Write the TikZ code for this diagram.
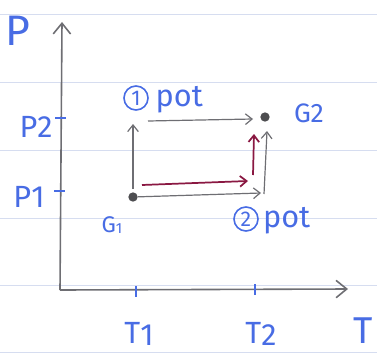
\documentclass[tikz,border=0pt]{standalone}
\usepackage{fontspec}
\setmainfont{Fira Sans}
\usepackage{xcolor}
\usetikzlibrary{arrows.meta,positioning}
\definecolor{ink}{RGB}{72,108,228}
\definecolor{pencil}{RGB}{110,110,115}
\definecolor{wine}{RGB}{138,24,66}
\definecolor{ruled}{RGB}{214,221,240}
\tikzset{
  axis/.style={pencil,line width=1.2pt,-{Straight Barb[length=8pt,width=13pt]}},
  way/.style={pencil,line width=0.9pt,-{Straight Barb[length=5pt,width=8pt]}},
  redway/.style={wine,line width=1.3pt,-{Straight Barb[length=5pt,width=8pt]}},
  tick/.style={ink,line width=1.1pt},
  lab/.style={text=ink,inner sep=0pt},
  num/.style={circle,draw=ink,line width=1.2pt,text=ink,inner sep=0pt,minimum size=18pt,font=\fontsize{16}{16}\selectfont},
}

\begin{document}
\begin{tikzpicture}[x=0.75pt,y=-0.75pt]
  \useasboundingbox (0,0) rectangle (377,360);
  \foreach \y in {14,82,150,218,285,352}
    \draw[ruled,line width=0.6pt] (0,\y)--(377,\y);
  \coordinate (O) at (60,290);
  \coordinate (ytop) at (62,22);
  \coordinate (xend) at (348,289);
  \draw[axis] (O)--(ytop);
  \draw[axis] (O)--(xend);
  \coordinate (p2) at (61,118);
  \coordinate (p1) at (60,191);
  \coordinate (t1) at (136,291);
  \coordinate (t2) at (255,290);
  \draw[tick] (p2) ++(-6,0)--++(11,0);
  \draw[tick] (p1) ++(-6,0)--++(11,0);
  \draw[tick] (t1) ++(0,-5)--++(0,11);
  \draw[tick] (t2) ++(0,-6)--++(0,11);
  \node[lab,font=\fontsize{32}{32}\selectfont] (P) at (18,31) {P};
  \node[lab,font=\fontsize{23}{23}\selectfont] (P2) at (36,127) {P\raisebox{-0.05ex}{2}};
  \node[lab,font=\fontsize{23}{23}\selectfont] (P1) at (29,197) {P\raisebox{-0.05ex}{1}};
  \node[lab,font=\fontsize{23}{23}\selectfont] (T1) at (139,334) {T\raisebox{-0.15ex}{1}};
  \node[lab,font=\fontsize{23}{23}\selectfont] (T2) at (261,334) {T\raisebox{-0.15ex}{2}};
  \node[lab,font=\fontsize{28}{28}\selectfont] (T) at (363,331) {T};
  \node[circle,fill=pencil!70!black,inner sep=0pt,minimum size=7pt] (G1) at (133,197) {};
  \node[circle,fill=pencil!70!black,inner sep=0pt,minimum size=7pt] (G2) at (265,117) {};
  \node[lab,font=\fontsize{17}{17}\selectfont] (G1lab) at (112,225) {G\raisebox{-0.1ex}{\fontsize{11}{11}\selectfont 1}};
  \node[lab,font=\fontsize{20}{20}\selectfont] (G2lab) at (309,113) {G2};
  \node[num] (one) at (136,98) {1};
  \node[lab,font=\fontsize{23}{23}\selectfont,right=5pt of one,yshift=-1pt] (pot1) {pot};
  \node[num] (two) at (246,219) {2};
  \node[lab,font=\fontsize{23}{23}\selectfont,right=3pt of two,yshift=-1pt] (pot2) {pot};
  \coordinate (a0) at (133,189);
  \coordinate (a1) at (133,124);
  \coordinate (b1) at (148,121);
  \coordinate (b2) at (253,119);
  \coordinate (c1) at (261,193);
  \coordinate (c2) at (264,194);
  \coordinate (c3) at (267,131);
  \coordinate (r1) at (142,185);
  \coordinate (r2) at (248,181);
  \coordinate (r3) at (253,175);
  \coordinate (r4) at (254,134);
  \draw[way] (a0)--(a1);
  \draw[way] (b1)--(b2);
  \draw[way] (G1)--(c1);
  \draw[way] (c2)--(c3);
  \draw[redway] (r1)--(r2);
  \draw[redway] (r3)--(r4);
\end{tikzpicture}
\end{document}
